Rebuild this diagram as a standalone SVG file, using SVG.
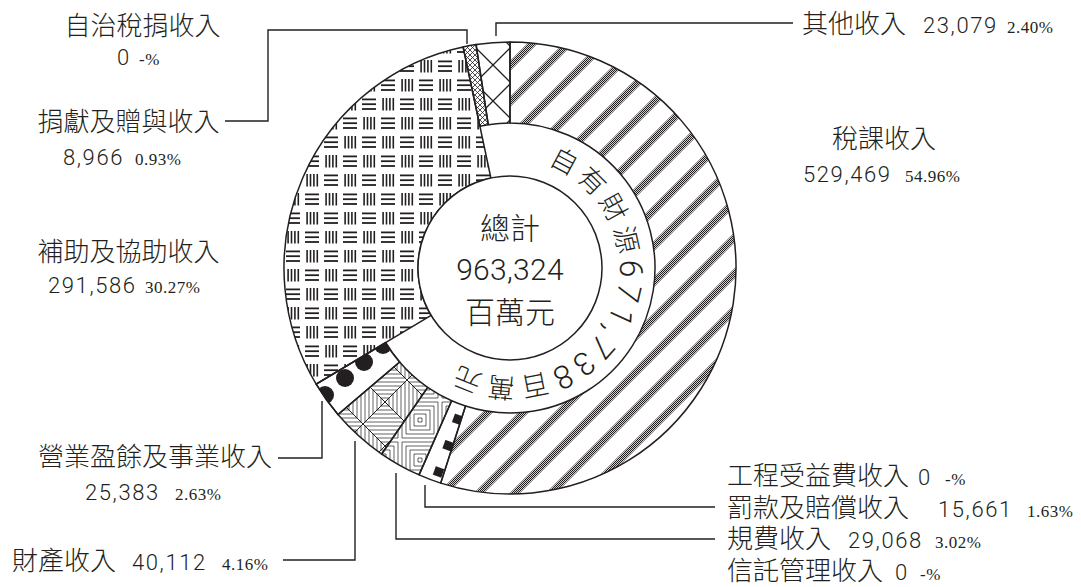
<svg xmlns="http://www.w3.org/2000/svg" width="1081" height="587" viewBox="0 0 1081 587">
<style>
.zh{font-family:"Noto Sans CJK TC Light","Noto Sans CJK TC","Noto Sans CJK JP",sans-serif;font-weight:300;font-size:26px;fill:#231f20}
.zhc{font-size:30px}
.num{font-family:Roboto,"Liberation Sans",Arial,sans-serif;font-weight:300;font-size:22px;letter-spacing:1.6px;fill:#231f20}
.numc{font-size:30px;letter-spacing:0.3px}
.pct{font-family:"Liberation Serif","Times New Roman",serif;font-weight:normal;font-size:17px;letter-spacing:0.5px}
.band{font-family:Roboto,"Noto Sans CJK TC Light","Noto Sans CJK TC",sans-serif;font-weight:300;font-size:27px;letter-spacing:4.5px;fill:#231f20}
.bdig{font-size:32px}
.lead{fill:none;stroke:#231f20;stroke-width:1.4}
.sl{stroke:#231f20;stroke-width:1.5;stroke-linejoin:round}
.ln{fill:none;stroke:#231f20}
</style>
<defs>
<pattern id="chk" width="2" height="2" patternUnits="userSpaceOnUse"><rect width="2" height="2" fill="#cfcfcf"/><rect width="1" height="1" fill="#231f20"/><rect x="1" y="1" width="1" height="1" fill="#231f20"/></pattern>
<pattern id="pTax" width="36" height="36" patternUnits="userSpaceOnUse">
<path d="M31,0H36V5L5,36H0V31Z M0,0H5L0,5Z M36,36H31L36,31Z" fill="url(#chk)"/>
</pattern>
<pattern id="pOther" x="7" y="11" width="36" height="36" patternUnits="userSpaceOnUse"><path d="M0,0L36,36M36,0L0,36" class="ln" stroke-width="1.3"/></pattern>
<pattern id="pDon" width="5" height="5" patternUnits="userSpaceOnUse"><path d="M0,0L5,5M5,0L0,5" class="ln" stroke-width="0.8"/></pattern>
<pattern id="pSub" width="38" height="38" patternUnits="userSpaceOnUse" fill="#231f20">
<rect x="1" y="3.5" width="14" height="1.8"/><rect x="1" y="8.3" width="14" height="1.8"/><rect x="1" y="13.1" width="14" height="1.8"/>
<rect x="21.3" y="3" width="1.6" height="12.5"/><rect x="24.7" y="3" width="1.6" height="12.5"/><rect x="28.1" y="3" width="1.6" height="12.5"/><rect x="31.5" y="3" width="1.6" height="12.5"/>
<rect x="2.3" y="22" width="1.6" height="12.5"/><rect x="5.7" y="22" width="1.6" height="12.5"/><rect x="9.1" y="22" width="1.6" height="12.5"/><rect x="12.5" y="22" width="1.6" height="12.5"/>
<rect x="20" y="22.5" width="14" height="1.8"/><rect x="20" y="27.3" width="14" height="1.8"/><rect x="20" y="32.1" width="14" height="1.8"/>
</pattern>
<pattern id="pProp" x="11" y="28" width="44" height="44" patternUnits="userSpaceOnUse">
<path d="M2,2H42V42H2Z M6,6H38V38H6Z M10,10H34V34H10Z M14,14H30V30H14Z M18,18H26V26H18Z" class="ln" stroke-width="0.7"/>
<path d="M0,0L44,44M44,0L0,44" class="ln" stroke-width="1"/>
</pattern>
<pattern id="pFee" x="0" y="0" width="40" height="40" patternUnits="userSpaceOnUse">
<path d="M2,2H38V38H2Z M6,6H34V34H6Z M10,10H30V30H10Z M14,14H26V26H14Z M18,18H22V22H18Z" class="ln" stroke-width="0.7"/>
</pattern>
<pattern id="pFine" width="28" height="28" patternUnits="userSpaceOnUse" patternTransform="rotate(20)">
<rect x="9" y="9" width="9" height="9" fill="#231f20"/>
</pattern>
<clipPath id="cBiz"><path d="M337.95,414.55A226,226 0 0 1 316.18,384.23L385.65,342.57A145,145 0 0 0 399.62,362.02Z"/></clipPath>
<path id="arcT" d="M510,158A110,110 0 0 1 510,378A110,110 0 0 1 510,158" fill="none"/>
</defs>
<rect width="1081" height="587" fill="#ffffff"/>

<g id="slices">
<path id="s-tax" class="sl" fill="url(#pTax)" d="M510,42A226,226 0 1 1 440.70,483.11L465.54,406.01A145,145 0 1 0 510,123Z"/>
<path id="s-fine" class="sl" fill="url(#pFine)" d="M440.70,483.11A226,226 0 0 1 419.07,474.90L451.66,400.75A145,145 0 0 0 465.54,406.01Z"/>
<path id="s-fee" class="sl" fill="url(#pFee)" d="M419.07,474.90A226,226 0 0 1 381.67,454.03L427.67,387.36A145,145 0 0 0 451.66,400.75Z"/>
<path id="s-prop" class="sl" fill="url(#pProp)" d="M381.67,454.03A226,226 0 0 1 337.95,414.55L399.62,362.02A145,145 0 0 0 427.67,387.36Z"/>
<g id="s-biz">
<path class="sl" fill="#ffffff" d="M337.95,414.55A226,226 0 0 1 316.18,384.23L385.65,342.57A145,145 0 0 0 399.62,362.02Z"/>
<g clip-path="url(#cBiz)" fill="#231f20"><circle cx="383" cy="345" r="9"/><circle cx="364" cy="362" r="9"/><circle cx="345" cy="378" r="9"/><circle cx="325" cy="395" r="9"/></g>
<path class="sl" fill="none" d="M337.95,414.55A226,226 0 0 1 316.18,384.23L385.65,342.57A145,145 0 0 0 399.62,362.02Z"/>
</g>
<path id="s-sub" class="sl" fill="url(#pSub)" d="M316.18,384.23A226,226 0 0 1 463.06,46.93L490.89,178.01A92,92 0 0 0 431.10,315.31Z"/>
<path id="s-don" class="sl" fill="url(#pDon)" d="M463.06,46.93A226,226 0 0 1 476.05,44.57L488.22,124.65A145,145 0 0 0 479.88,126.16Z"/>
<path id="s-other" class="sl" fill="url(#pOther)" d="M476.05,44.57A226,226 0 0 1 510,42L510,123A145,145 0 0 0 488.22,124.65Z"/>
<circle cx="510" cy="268" r="92" fill="#ffffff" class="sl"/>
</g>

<g id="center">
<text class="zh zhc" x="510" y="239" text-anchor="middle">總計</text>
<text class="num numc" x="510" y="280" text-anchor="middle">963,324</text>
<text class="zh zhc" x="510" y="323" text-anchor="middle">百萬元</text>
</g>
<g id="band">
<text class="band" text-anchor="middle"><textPath href="#arcT" startOffset="220.4">自有財源<tspan class="bdig">671,738</tspan>百萬元</textPath></text>
</g>

<g id="connectors">
<path class="lead" d="M225,121H268V30H467V44"/>
<path class="lead" d="M793,23H496V36"/>
<path class="lead" d="M278,458H322V401"/>
<path class="lead" d="M283,560H355V441"/>
<path class="lead" d="M715,539H396V473"/>
<path class="lead" d="M715,507H425V485"/>
</g>

<g id="n-local-tax"><text class="zh" x="142.5" y="35" text-anchor="middle">自治稅捐收入</text><text class="num" x="117" y="65">0<tspan class="pct" x="139">-%</tspan></text></g>
<g id="n-donation"><text class="zh" x="128.5" y="131" text-anchor="middle">捐獻及贈與收入</text><text class="num" x="63" y="165">8,966<tspan class="pct" x="135">0.93%</tspan></text></g>
<g id="n-subsidy"><text class="zh" x="128.5" y="261" text-anchor="middle">補助及協助收入</text><text class="num" x="48" y="293">291,586<tspan class="pct" x="145">30.27%</tspan></text></g>
<g id="n-business"><text class="zh" x="155" y="466" text-anchor="middle">營業盈餘及事業收入</text><text class="num" x="85" y="500">25,383<tspan class="pct" x="175">2.63%</tspan></text></g>
<g id="n-property"><text class="zh" x="12" y="570">財產收入<tspan class="num" x="132">40,112</tspan><tspan class="pct" x="222">4.16%</tspan></text></g>
<g id="n-other"><text class="zh" x="802" y="33">其他收入<tspan class="num" x="923">23,079</tspan><tspan class="pct" x="1007">2.40%</tspan></text></g>
<g id="n-tax"><text class="zh" x="832" y="148">稅課收入</text><text class="num" x="803" y="182">529,469<tspan class="pct" x="905">54.96%</tspan></text></g>
<g id="n-works"><text class="zh" x="727" y="485">工程受益費收入<tspan class="num" x="918">0</tspan><tspan class="pct" x="945">-%</tspan></text></g>
<g id="n-fine"><text class="zh" x="727" y="517">罰款及賠償收入<tspan class="num" x="938">15,661</tspan><tspan class="pct" x="1027">1.63%</tspan></text></g>
<g id="n-fee"><text class="zh" x="727" y="548">規費收入<tspan class="num" x="848">29,068</tspan><tspan class="pct" x="935">3.02%</tspan></text></g>
<g id="n-trust"><text class="zh" x="727" y="580">信託管理收入<tspan class="num" x="895">0</tspan><tspan class="pct" x="920">-%</tspan></text></g>
</svg>
